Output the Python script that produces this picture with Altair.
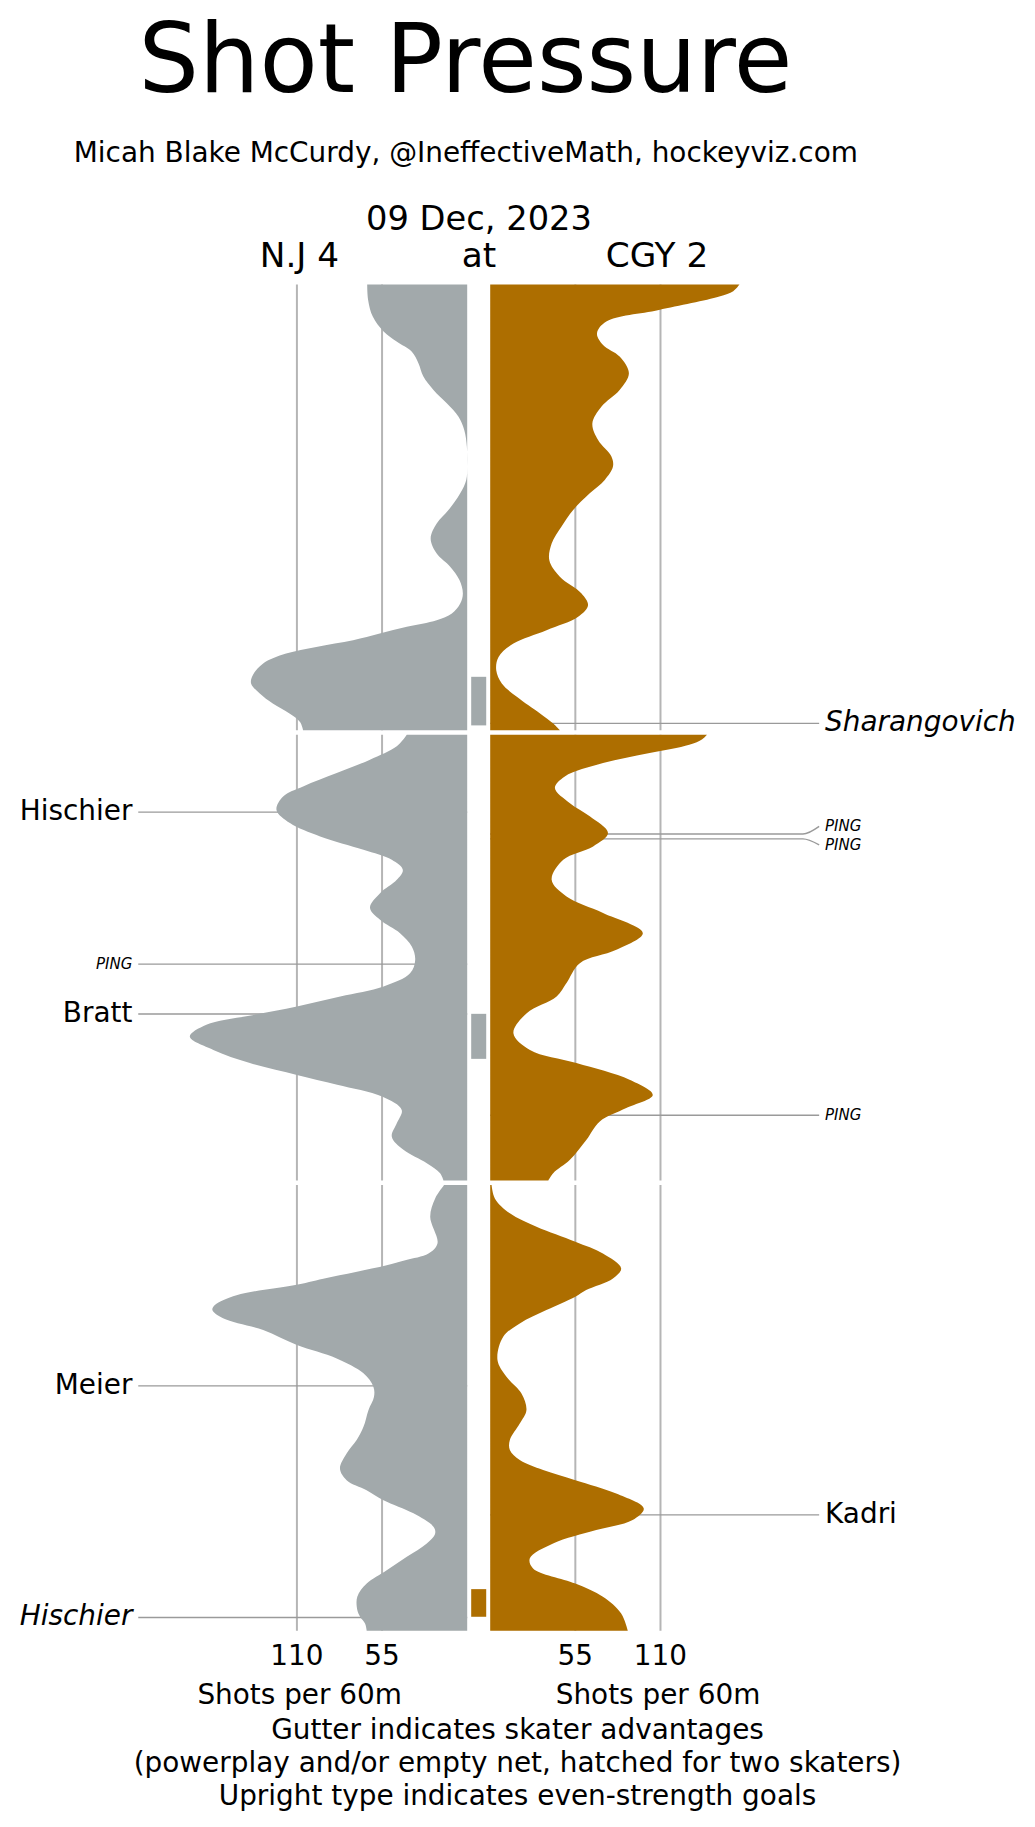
import altair as alt
import pandas as pd

# ---------------- data ----------------
# shot rates (shots per 60 minutes) against minute of each period
NJ_P1_MIN = [0.0, 0.69, 1.44, 2.11, 2.56, 3.01, 3.53, 4.13, 4.73, 5.33, 5.93, 6.53, 7.28, 8.17, 8.77,
             9.37, 10.12, 10.72, 11.39, 12.07, 12.66, 13.26, 13.86, 14.31, 14.76, 15.06, 15.36, 15.66,
             15.96, 16.26, 16.56, 17.01, 17.53, 17.9, 18.35, 18.8, 19.25, 19.63, 20.0]
NJ_P1_RATE = [64.6, 64, 61, 54, 45.6, 35.9, 31.5, 28.3, 21.8, 13.2, 5.6, 1.9, 0.2, 0, 0.6,
              4.5, 12.1, 19.7, 23.6, 19.7, 11, 5, 2.8, 4.5, 9.9, 19.7, 39, 56.5,
              73.7, 97.5, 117, 132, 138.5, 139.6, 134, 125.6, 114.8, 108, 106]

CGY_P1_MIN = [0.0, 0.3, 0.54, 1.14, 1.66, 2.19, 2.71, 3.23, 3.98, 4.73, 5.48, 6.23, 6.98, 7.72, 8.17,
              8.77, 9.37, 10.12, 10.87, 11.62, 12.37, 13.11, 13.86, 14.39, 14.91, 15.51, 16.11,
              16.71, 17.31, 17.9, 18.5, 19.25, 19.7, 20.0]
CGY_P1_RATE = [161, 157, 148, 109, 75, 69, 72.9, 83.6, 89.6, 83.6, 71.8, 66, 69.7, 78.3, 79.3,
               74, 64.3, 53.6, 46, 39.7, 38.2, 45, 59, 63.2, 56.8, 36.4, 15,
               5.4, 3.9, 7.5, 17.2, 32.2, 40.7, 45]

NJ_P2_MIN = [0.0, 0.52, 1.12, 1.72, 2.32, 2.77, 3.37, 3.96, 4.56, 5.16, 5.61, 6.06, 6.51, 7.11, 7.76,
             8.30, 8.90, 9.50, 10.10, 10.70, 11.29, 11.74, 12.19, 12.57, 13.01, 13.54, 14.14, 14.73,
             15.26, 15.70, 16.23, 16.83, 17.43, 18.03, 18.62, 19.22, 19.67, 20.0]
NJ_P2_RATE = [39, 45.5, 62.8, 84.3, 106, 118.9, 123.2, 114.5, 95, 67, 48.7, 41.6, 45.5, 56.3, 62.8,
              56.3, 43.4, 35.8, 33.6, 36.9, 54, 82, 110, 138, 168.5, 179.2, 164, 140.4,
              110, 84, 55, 42.3, 45.5, 48.7, 41.2, 26.1, 17.5, 15.3]

CGY_P2_MIN = [0.0, 0.2, 0.45, 0.82, 1.27, 1.87, 2.39, 3.07, 3.66, 4.41, 5.01, 5.61, 6.51, 7.26, 8.0,
              8.9, 9.65, 10.25, 11.14, 11.74, 12.49, 13.39, 14.14, 14.73, 15.48, 16.16, 16.75,
              17.35, 18.17, 19.07, 19.67, 20.0]
CGY_P2_RATE = [140, 137, 128.6, 103, 72.9, 48.2, 41.8, 51.5, 64.3, 76.1, 66.5, 47.2, 39.7, 49.3, 72.9,
               98.6, 81.5, 57.9, 49.3, 42.9, 23.6, 15, 25.7, 55.7, 90, 105, 87.9,
               70.8, 62.2, 51.5, 40.7, 37.5]

NJ_P3_MIN = [0.0, 0.6, 1.42, 2.62, 3.07, 3.37, 3.6, 3.9, 4.2, 4.5, 4.94, 5.38, 5.61, 5.98, 6.51, 7.18,
             7.78, 8.45, 9.05, 9.5, 10.1, 10.85, 11.44, 12.04, 12.72, 13.24, 13.69, 14.14, 14.73,
             15.33, 15.63, 16.08, 16.68, 17.28, 17.88, 18.47, 19.07, 19.37, 19.67, 20.0]
NJ_P3_RATE = [14.9, 20.7, 23.9, 19.2, 25, 40, 52, 72, 93, 112, 149, 163, 164.6, 157.7, 131.8, 110,
              84.3, 67, 60.6, 60.2, 63.8, 67, 71.4, 77.9, 82.2, 77.9, 65, 54.1, 34.7,
              21.8, 20.7, 26.1, 39, 52, 64.9, 71, 71, 69.2, 66, 64.9]

CGY_P3_MIN = [0.0, 0.6, 1.27, 1.87, 2.54, 3.07, 3.74, 4.19, 4.71, 5.01, 5.61, 6.21, 6.81, 7.85, 8.6,
              9.35, 10.1, 10.7, 11.44, 11.89, 12.34, 12.79, 13.24, 13.84, 14.51, 15.03, 15.48,
              16.08, 16.75, 17.2, 17.88, 18.47, 19.22, 20.0]
CGY_P3_RATE = [0.9, 3, 12.7, 29.9, 55, 72.8, 84.6, 79.3, 62, 55, 36.3, 19.1, 8.4, 4.7, 10.5,
               20.2, 23.4, 19.1, 12.7, 12.7, 19.1, 34.2, 55, 81.4, 99.2, 92, 68.5,
               40.6, 25.6, 27.7, 55, 72.8, 84.6, 88.9]

# skater-advantage spells shown in the gutter
GUTTER_PERIOD = [1, 2, 3]
GUTTER_START = [17.6, 12.52, 18.13]
GUTTER_END = [19.78, 14.54, 19.37]
GUTTER_TEAM = ["N.J", "N.J", "CGY"]

# goals and posts
ANN_TEAM = ["CGY", "N.J", "N.J", "N.J", "CGY", "CGY", "CGY", "N.J", "CGY", "N.J"]
ANN_PERIOD = [1, 2, 2, 2, 2, 2, 2, 3, 3, 3]
ANN_MIN = [19.69, 3.47, 10.29, 12.53, 4.455, 4.67, 17.07, 9.01, 14.8, 19.4]
ANN_LABEL_MIN = [19.69, 3.47, 10.29, 12.53, 4.11, 4.94, 17.07, 9.01, 14.8, 19.4]
ANN_TEXT = ["Sharangovich", "Hischier", "PING", "Bratt", "PING", "PING", "PING",
            "Meier", "Kadri", "Hischier"]
ANN_KIND = ["other", "even", "ping", "even", "ping", "ping", "ping", "even", "even", "other"]

TICK_VALUES = [110, 55]
PERIODS = [1, 2, 3]

TITLE = "Shot Pressure"
SUBTITLE = "Micah Blake McCurdy, @IneffectiveMath, hockeyviz.com"
DATE = "09 Dec, 2023"
AWAY_LABEL = "N.J 4"
AT_LABEL = "at"
HOME_LABEL = "CGY 2"
AXIS_TITLE = "Shots per 60m"
FOOTER = ["Gutter indicates skater advantages",
          "(powerplay and/or empty net, hatched for two skaters)",
          "Upright type indicates even-strength goals"]

# ---------------- layout / style ----------------
PAD_T = 6
W, H = 1019, 1811 - PAD_T


def py(page_y):
    return page_y - 8 - PAD_T


PX_PER_UNIT = 1.548
CENTER = 470.7
HALF_GAP = 7.43
GUTTER_HALF = 4.85
PX_PER_MIN = 22.29
TOP = py(284.5)
PITCH = 20.2
LINE_BEND = 202.0
LINE_END = 212.5
TEXT_POS = 216.3

GRAY = "#A2A9AB"
ORANGE = "#AD6E00"
GRID = "#B5B5B5"
ANN = "#9A9A9A"
FONT = "DejaVu Sans"
FS = 27.9

XS = alt.Scale(domain=[-CENTER / PX_PER_UNIT, (W - CENTER) / PX_PER_UNIT], nice=False, zero=False)
YS = alt.Scale(domain=[-TOP / PX_PER_MIN, (H - TOP) / PX_PER_MIN], nice=False, zero=False, reverse=True)

SIDE = {"N.J": -1, "CGY": 1}

# ---------------- tables ----------------
series = [
    ("N.J", 1, NJ_P1_MIN, NJ_P1_RATE), ("CGY", 1, CGY_P1_MIN, CGY_P1_RATE),
    ("N.J", 2, NJ_P2_MIN, NJ_P2_RATE), ("CGY", 2, CGY_P2_MIN, CGY_P2_RATE),
    ("N.J", 3, NJ_P3_MIN, NJ_P3_RATE), ("CGY", 3, CGY_P3_MIN, CGY_P3_RATE),
]
rows = []
for team, per, mins, rates in series:
    for m, r in zip(mins, rates):
        rows.append({"team": team, "side": SIDE[team], "period": per, "minute": m, "rate": r})
curves = pd.DataFrame(rows)

grid_df = pd.DataFrame([{"side": s, "period": p, "v": v}
                        for s in (-1, 1) for p in PERIODS for v in TICK_VALUES])
gutter_df = pd.DataFrame({"period": GUTTER_PERIOD, "start": GUTTER_START,
                          "end": GUTTER_END, "team": GUTTER_TEAM})

line_rows = []
for i in range(len(ANN_TEXT)):
    s = SIDE[ANN_TEAM[i]]
    for k, (pos, m) in enumerate([(0.0, ANN_MIN[i]), (LINE_BEND, ANN_MIN[i]),
                                  (LINE_END, ANN_LABEL_MIN[i])]):
        line_rows.append({"id": i, "side": s, "period": ANN_PERIOD[i], "pos": pos,
                          "minute": m, "k": k})
lines_df = pd.DataFrame(line_rows)

ann_df = pd.DataFrame({"text": ANN_TEXT, "side": [SIDE[t] for t in ANN_TEAM],
                       "period": ANN_PERIOD, "minute": ANN_LABEL_MIN, "kind": ANN_KIND})
tick_df = pd.DataFrame([{"side": s, "v": v, "label": str(v)} for s in (-1, 1) for v in TICK_VALUES])

T_EXPR = f"(datum.period - 1) * {PITCH} + datum.minute"

# ---------------- layers ----------------
grid = alt.Chart(grid_df).transform_calculate(
    x=f"datum.side * ({HALF_GAP} + datum.v)",
    t0=f"(datum.period - 1) * {PITCH}",
    t1=f"(datum.period - 1) * {PITCH} + 20",
).mark_rule(color=GRID, strokeWidth=2).encode(
    x=alt.X("x:Q", scale=XS, axis=None),
    y=alt.Y("t0:Q", scale=YS, axis=None),
    y2="t1:Q",
)

ann_lines = alt.Chart(lines_df).transform_calculate(
    x=f"datum.side * ({HALF_GAP} + datum.pos)",
    t=T_EXPR,
).mark_line(color=ANN, strokeWidth=1.4, interpolate="monotone").encode(
    x=alt.X("x:Q", scale=XS, axis=None),
    y=alt.Y("t:Q", scale=YS, axis=None),
    detail="id:N",
    order="x:Q",
)


def area(team, color):
    return alt.Chart(curves).transform_filter(alt.datum.team == team).transform_calculate(
        xv=f"datum.side * ({HALF_GAP} + datum.rate)",
        x0=f"datum.side * {HALF_GAP}",
        t=T_EXPR,
    ).mark_area(orient="horizontal", interpolate="catmull-rom", color=color).encode(
        x=alt.X("xv:Q", scale=XS, axis=None, stack=False),
        x2="x0:Q",
        y=alt.Y("t:Q", scale=YS, axis=None),
        detail="period:N",
    )


gutter = alt.Chart(gutter_df).transform_calculate(
    gx0=f"-{GUTTER_HALF}", gx1=f"{GUTTER_HALF}",
    t0=f"(datum.period - 1) * {PITCH} + datum.start",
    t1=f"(datum.period - 1) * {PITCH} + datum.end",
).mark_rect().encode(
    x=alt.X("gx0:Q", scale=XS, axis=None),
    x2="gx1:Q",
    y=alt.Y("t0:Q", scale=YS, axis=None),
    y2="t1:Q",
    color=alt.Color("team:N", scale=alt.Scale(domain=["N.J", "CGY"], range=[GRAY, ORANGE]), legend=None),
)

ann_texts = []
for side, align in ((-1, "right"), (1, "left")):
    for kind, size, style in (("even", FS, "normal"), ("other", FS, "italic"), ("ping", 15, "italic")):
        ann_texts.append(
            alt.Chart(ann_df).transform_filter(
                (alt.datum.side == side) & (alt.datum.kind == kind)
            ).transform_calculate(
                x=f"datum.side * ({HALF_GAP} + {TEXT_POS})",
                t=T_EXPR,
            ).mark_text(align=align, baseline="middle", font=FONT, fontSize=size,
                        fontStyle=style, color="black").encode(
                x=alt.X("x:Q", scale=XS, axis=None),
                y=alt.Y("t:Q", scale=YS, axis=None),
                text="text:N",
            )
        )

ticks = alt.Chart(tick_df).transform_calculate(
    x=f"datum.side * ({HALF_GAP} + datum.v)"
).mark_text(align="center", baseline="alphabetic", font=FONT, fontSize=FS, color="black").encode(
    x=alt.X("x:Q", scale=XS, axis=None),
    y=alt.value(py(1664.5)),
    text="label:N",
)


def label(txt, x, page_y, size, align="center"):
    return alt.Chart(pd.DataFrame({"t": [txt]})).mark_text(
        align=align, baseline="alphabetic", font=FONT, fontSize=size, color="black"
    ).encode(x=alt.value(x), y=alt.value(py(page_y)), text="t:N")


headers = [
    label(TITLE, 457.5, 91.5, 95.3),
    label(SUBTITLE, 457.8, 162, FS),
    label(DATE, 471, 229.8, 33.7),
    label(AWAY_LABEL, 291.5, 267, 34.3),
    label(AT_LABEL, 470.9, 267, 34.3),
    label(HOME_LABEL, 649, 267, 34.3),
    label(AXIS_TITLE, 291.7, 1704, FS),
    label(AXIS_TITLE, 650, 1704, FS),
    label(FOOTER[0], 509.5, 1739, FS),
    label(FOOTER[1], 509.5, 1772, FS),
    label(FOOTER[2], 509.5, 1805, FS),
]

chart = alt.layer(
    grid, ann_lines, area("N.J", GRAY), area("CGY", ORANGE), gutter, *ann_texts, ticks, *headers
).properties(
    width=W, height=H, autosize=alt.AutoSizeParams(type="none"),
    padding={"left": 0, "top": PAD_T, "right": 0, "bottom": 0}, background="white"
).configure_view(stroke=None)

chart.save("out.html", embed_options={"renderer": "svg", "actions": False})
